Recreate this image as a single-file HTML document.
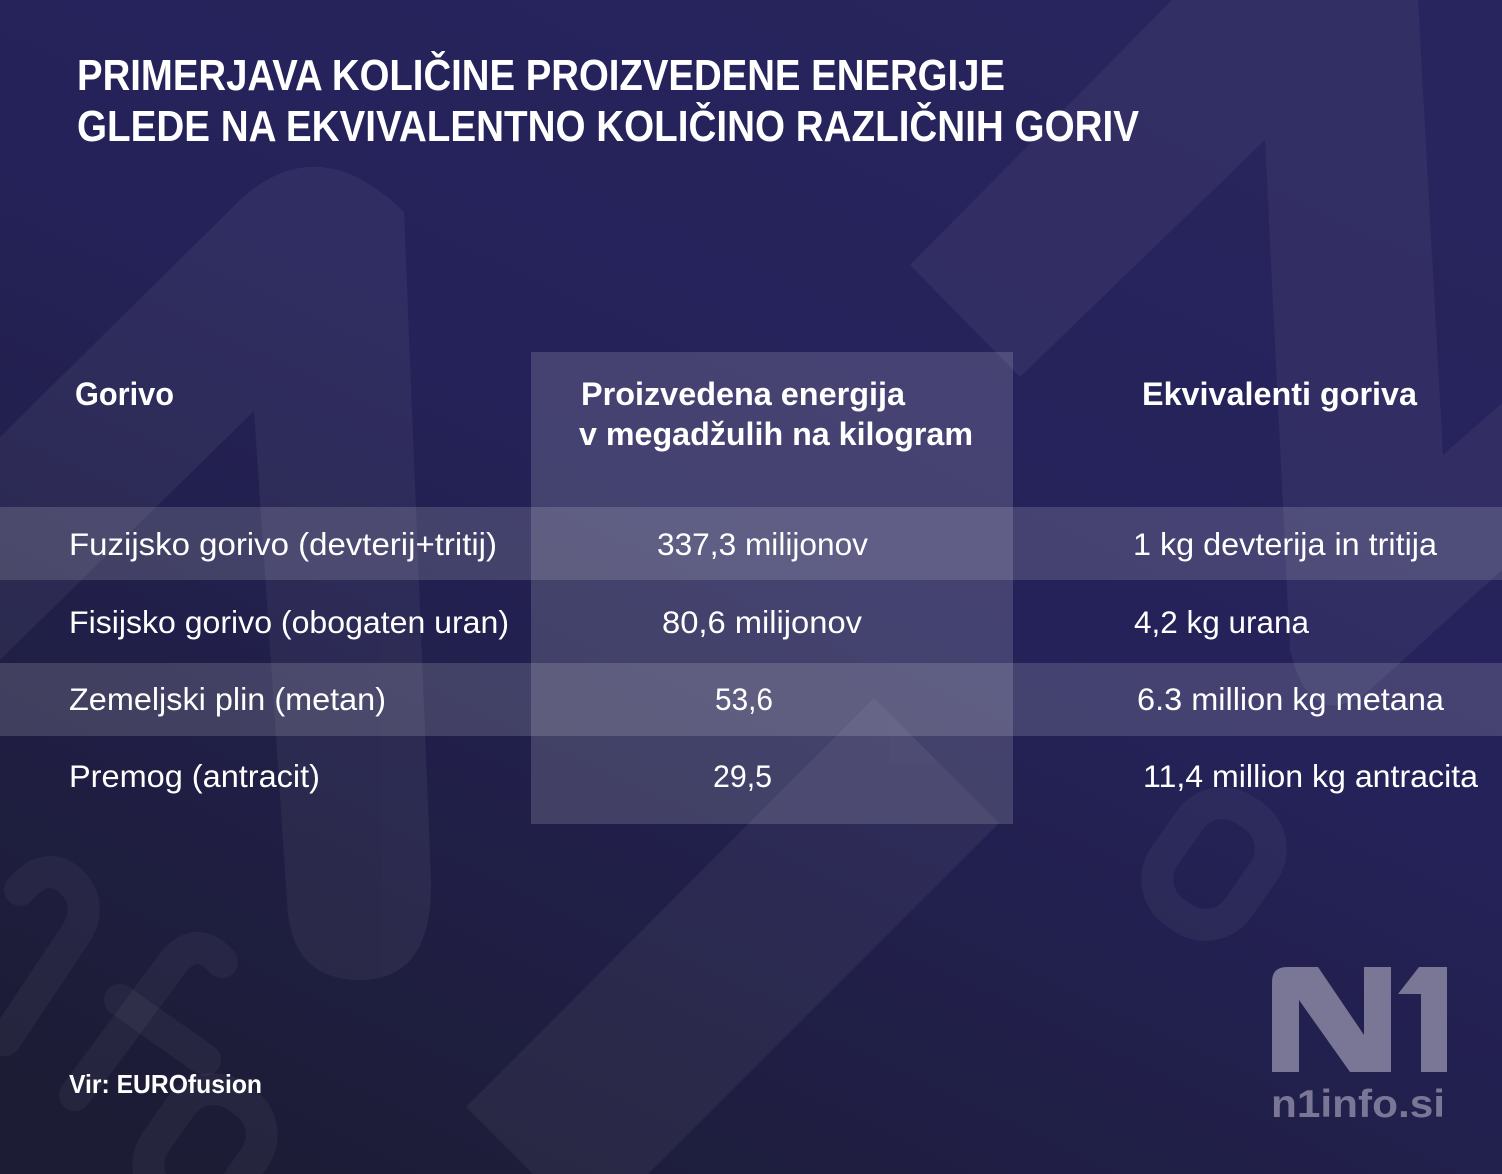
<!DOCTYPE html>
<html>
<head>
<meta charset="utf-8">
<style>
html,body{margin:0;padding:0;background:#25225a;}
svg{display:block;}
text{font-family:"Liberation Sans",sans-serif;fill:#fff;}
.t{font-weight:bold;font-size:44px;}
.h{font-weight:bold;font-size:32px;}
.r{font-size:31.5px;}
</style>
</head>
<body>
<svg width="1502" height="1174" viewBox="0 0 1502 1174" xmlns="http://www.w3.org/2000/svg">
<defs>
<linearGradient id="bg" x1="0.75" y1="0" x2="0.15" y2="1">
<stop offset="0" stop-color="#28245d"/>
<stop offset="0.4" stop-color="#25225a"/>
<stop offset="1" stop-color="#1c1c35"/>
</linearGradient>
</defs>
<rect width="1502" height="1174" fill="url(#bg)"/>

<!-- watermark shapes -->
<g fill="#ffffff" opacity="0.05">
<path d="M0,437 L240,200 Q318,128 404,212 L431,880 Q433,980 360,980 Q289,980 287,900 L254,411 L0,660 Z"/>
<path d="M1172,0 L1418,0 L1443,455 L1502,403 L1502,570 L1370,690 Q1310,735 1290,650 L1265,140 L1020,377 L910,265 Z"/>
<path d="M533,1174 L466,1107 L874,698 L999,823 L648,1174 Z"/>
</g>
<g fill="none" stroke="#ffffff" stroke-opacity="0.045" stroke-width="32" stroke-linecap="round">
<rect x="-45" y="-62" width="90" height="124" rx="40" transform="translate(1214,864) rotate(35)"/>
<rect x="-45" y="-62" width="90" height="124" rx="40" transform="translate(205,1150) rotate(35)"/>
<path d="M75,1095 L175,960 Q198,935 222,962"/>
<path d="M120,1000 L205,1060"/>
<path d="M5,1040 L75,935 Q95,905 70,880 Q45,860 20,890"/>
</g>

<!-- center column box -->
<rect x="531" y="352" width="482" height="472" fill="#ffffff" fill-opacity="0.15"/>
<!-- row bands -->
<rect x="0" y="507" width="1502" height="73" fill="#ffffff" fill-opacity="0.15"/>
<rect x="0" y="663" width="1502" height="73" fill="#ffffff" fill-opacity="0.15"/>

<!-- title -->
<text class="t" x="77" y="90" textLength="928" lengthAdjust="spacingAndGlyphs">PRIMERJAVA KOLIČINE PROIZVEDENE ENERGIJE</text>
<text class="t" x="77" y="141" textLength="1062" lengthAdjust="spacingAndGlyphs">GLEDE NA EKVIVALENTNO KOLIČINO RAZLIČNIH GORIV</text>

<!-- headers -->
<text class="h" x="75" y="405" textLength="99" lengthAdjust="spacingAndGlyphs">Gorivo</text>
<text class="h" x="581" y="405" textLength="324" lengthAdjust="spacingAndGlyphs">Proizvedena energija</text>
<text class="h" x="579" y="445" textLength="394" lengthAdjust="spacingAndGlyphs">v megadžulih na kilogram</text>
<text class="h" x="1142" y="405" textLength="275" lengthAdjust="spacingAndGlyphs">Ekvivalenti goriva</text>

<!-- rows -->
<text class="r" x="69" y="555" textLength="428" lengthAdjust="spacingAndGlyphs">Fuzijsko gorivo (devterij+tritij)</text>
<text class="r" x="657" y="555" textLength="211" lengthAdjust="spacingAndGlyphs">337,3 milijonov</text>
<text class="r" x="1133" y="555" textLength="304" lengthAdjust="spacingAndGlyphs">1 kg devterija in tritija</text>

<text class="r" x="69" y="633" textLength="440" lengthAdjust="spacingAndGlyphs">Fisijsko gorivo (obogaten uran)</text>
<text class="r" x="662" y="633" textLength="200" lengthAdjust="spacingAndGlyphs">80,6 milijonov</text>
<text class="r" x="1134" y="633" textLength="175" lengthAdjust="spacingAndGlyphs">4,2 kg urana</text>

<text class="r" x="69" y="710" textLength="317" lengthAdjust="spacingAndGlyphs">Zemeljski plin (metan)</text>
<text class="r" x="715" y="710" textLength="58" lengthAdjust="spacingAndGlyphs">53,6</text>
<text class="r" x="1137" y="710" textLength="307" lengthAdjust="spacingAndGlyphs">6.3 million kg metana</text>

<text class="r" x="69" y="787" textLength="251" lengthAdjust="spacingAndGlyphs">Premog (antracit)</text>
<text class="r" x="713" y="787" textLength="59" lengthAdjust="spacingAndGlyphs">29,5</text>
<text class="r" x="1143" y="787" textLength="335" lengthAdjust="spacingAndGlyphs">11,4 million kg antracita</text>

<!-- footer -->
<text x="69" y="1093" textLength="193" lengthAdjust="spacingAndGlyphs" style="font-weight:bold;font-size:26px;">Vir: EUROfusion</text>

<!-- logo -->
<g fill="#7a7696">
<path d="M1272,1072 L1272,982 Q1272,967 1287,967 L1318,967 L1364,1035 L1364,967 L1391,967 L1391,1072 L1350,1072 L1299,1000 L1299,1072 Z"/>
<path d="M1398,994 L1419,967 L1447,967 L1447,1072 L1421,1072 L1421,994 Z"/>
</g>
<text x="1271" y="1117" textLength="174" lengthAdjust="spacingAndGlyphs" style="font-weight:bold;font-size:39px;fill:#7a7696;">n1info.si</text>
</svg>
</body>
</html>
